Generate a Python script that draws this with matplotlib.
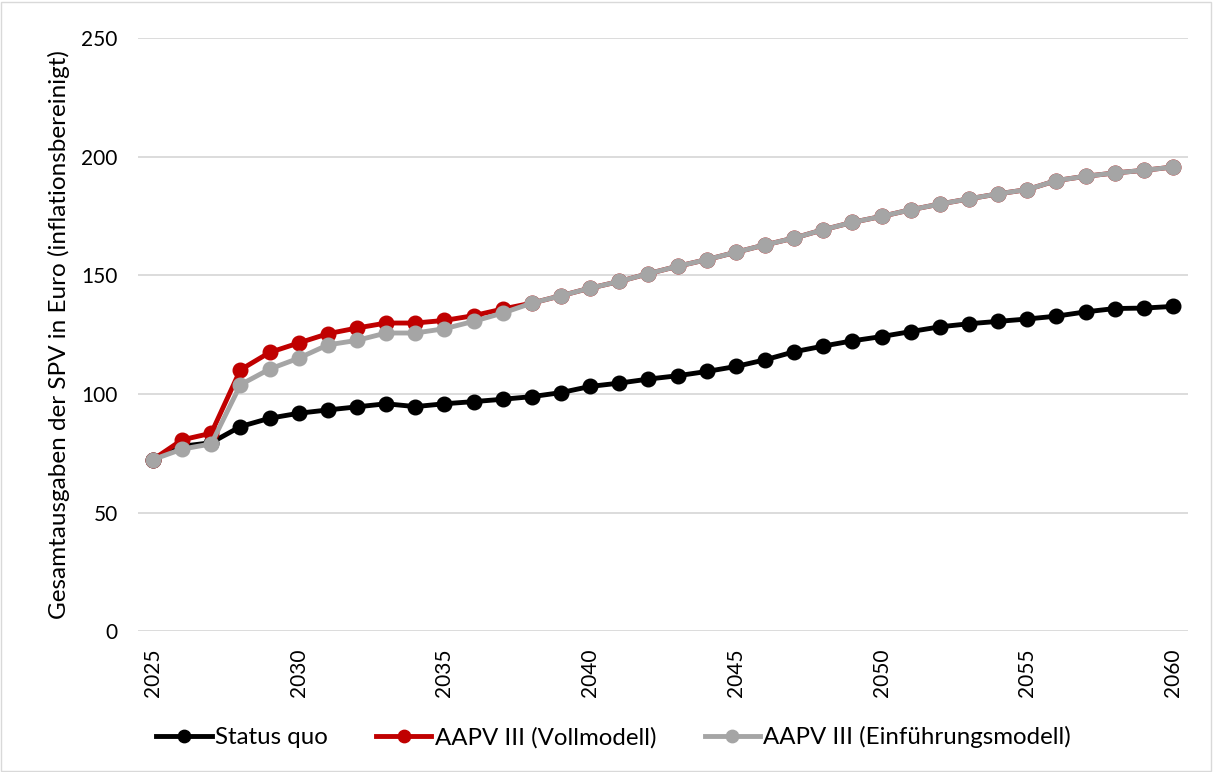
import numpy as np
import matplotlib.pyplot as plt
from matplotlib.patches import Rectangle

plt.rcParams['font.family'] = ['Lato', 'DejaVu Sans']

jahre = np.arange(2025, 2061)

status_quo = [72.4, 78.0, 79.5, 86.3, 89.8, 91.9, 93.3, 94.6, 95.9, 94.7,
              95.9, 96.8, 97.8, 98.9, 100.6, 103.2, 104.6, 106.3, 107.7, 109.5,
              111.6, 114.4, 117.8, 120.2, 122.4, 124.2, 126.3, 128.3, 129.6, 130.6,
              131.6, 132.8, 134.6, 136.0, 136.2, 136.9]

vollmodell = [72.4, 80.7, 83.5, 110.2, 117.5, 121.5, 125.4, 127.8, 129.9, 129.9,
              131.0, 133.0, 135.8, 138.3, 141.4, 144.6, 147.4, 150.7, 153.8, 156.6,
              159.7, 162.8, 165.7, 169.2, 172.3, 174.8, 177.6, 180.0, 182.2, 184.3,
              186.1, 189.9, 191.7, 193.1, 194.2, 195.6]

einfuehrung = [72.4, 76.8, 79.0, 103.9, 110.5, 115.1, 120.7, 122.6, 125.7, 125.7,
               127.5, 130.6, 134.1, 138.3, 141.4, 144.6, 147.4, 150.7, 153.8, 156.6,
               159.7, 162.8, 165.7, 169.2, 172.3, 174.8, 177.6, 180.0, 182.2, 184.3,
               186.1, 189.9, 191.7, 193.1, 194.2, 195.6]

fig = plt.figure(figsize=(12.13, 7.72), dpi=100)
ax = fig.add_axes([0.1141, 0.182, 0.865, 0.769])

ax.plot(jahre, status_quo, color='black', lw=3.5, marker='o', ms=10.5,
        label='Status quo', zorder=3)
ax.plot(jahre, vollmodell, color='#C00000', lw=3.5, marker='o', ms=10.5,
        label='AAPV III (Vollmodell)', zorder=4)
ax.plot(jahre, einfuehrung, color='#A5A5A5', lw=3.5, marker='o', ms=10.5,
        label='AAPV III (Einführungsmodell)', zorder=5)

ax.set_xlim(2024.5, 2060.5)
ax.set_ylim(0, 250)
ax.set_yticks(range(0, 251, 50))
ax.set_xticks(range(2025, 2061, 5))
ax.tick_params(axis='x', labelrotation=90, length=0, labelsize=15, pad=12)
ax.tick_params(axis='y', length=0, labelsize=15, pad=15)
ax.grid(axis='y', color='#D9D9D9', lw=1.3)
ax.set_axisbelow(True)
for s in ax.spines.values():
    s.set_visible(False)

ax.set_ylabel('Gesamtausgaben der SPV in Euro (inflationsbereinigt)', fontsize=17.5, labelpad=8)

fig.legend(loc='center', bbox_to_anchor=(0.506, 0.045), ncol=3, frameon=False,
           fontsize=17.3, handlelength=2.3, columnspacing=2.0, handletextpad=0.15,
           markerscale=0.85)

fig.patches.append(Rectangle((0.001, 0.001), 0.997, 0.997, transform=fig.transFigure,
                             fill=False, edgecolor='#D9D9D9', lw=1))

fig.savefig('out.png', dpi=100)
